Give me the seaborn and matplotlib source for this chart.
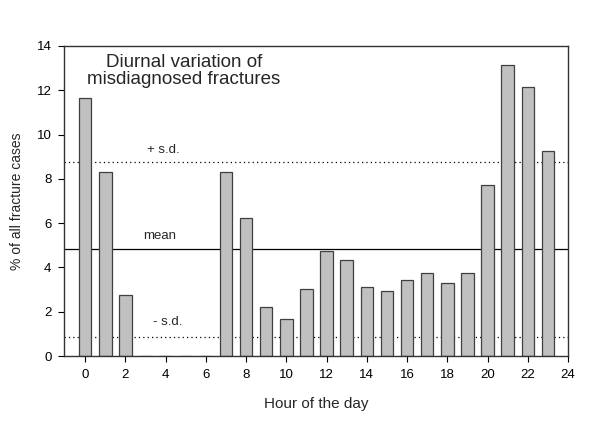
import matplotlib
matplotlib.use("Agg")
import matplotlib.pyplot as plt
import seaborn as sns
import numpy as np
import pandas as pd

hours = list(range(24))
percent = [11.64, 8.30, 2.75, 0, 0, 0, 0, 8.30, 6.22, 2.20, 1.66, 3.01,
           4.74, 4.32, 3.10, 2.92, 3.42, 3.75, 3.28, 3.73, 7.71, 13.13, 12.14, 9.25]
mean_val = 4.82
plus_sd = 8.75
minus_sd = 0.87
xticks = list(range(0, 25, 2))
yticks = list(range(0, 15, 2))

sns.set_theme(style="ticks")
plt.rcParams['font.family'] = ['Liberation Sans', 'DejaVu Sans']

fig = plt.figure(figsize=(6, 4.4), dpi=100)
ax = fig.add_axes([0.1067, 0.1909, 0.84, 0.7046])

df = pd.DataFrame({"hour": hours, "pct": percent})
sns.barplot(data=df, x="hour", y="pct", native_scale=True, width=0.62,
            color="#c0c0c0", saturation=1, edgecolor="#404040", linewidth=0.9, ax=ax)

ax.axhline(mean_val, color="black", lw=0.9, zorder=0.5)
ax.axhline(plus_sd, color="black", lw=0.9, ls=(0, (1, 2.5)), zorder=0.5)
ax.axhline(minus_sd, color="black", lw=0.9, ls=(0, (1, 2.5)), zorder=0.5)

ax.set_xlim(-1.05, 24)
ax.set_ylim(0, 14)
ax.set_xticks(xticks)
ax.set_yticks(yticks)
ax.tick_params(direction="out", length=4, width=0.8, labelsize=9.5, colors="black",
               top=False, right=False, pad=5)
for s in ax.spines.values():
    s.set_visible(True)
    s.set_color("#333333")
    s.set_linewidth(1.0)

ax.set_xlabel("Hour of the day", fontsize=11, labelpad=12)
ax.set_ylabel("% of all fracture cases", fontsize=10, labelpad=9)

ax.text(4.9, 13.65, "Diurnal variation of\nmisdiagnosed fractures", ha="center", va="top",
        fontsize=13.5, linespacing=1.0)
ax.text(3.9, 9.3, "+ s.d.", ha="center", va="center", fontsize=9.5)
ax.text(3.7, 5.4, "mean", ha="center", va="center", fontsize=9.5)
ax.text(4.1, 1.55, "- s.d.", ha="center", va="center", fontsize=9.5)

fig.savefig("out.png", dpi=100)
